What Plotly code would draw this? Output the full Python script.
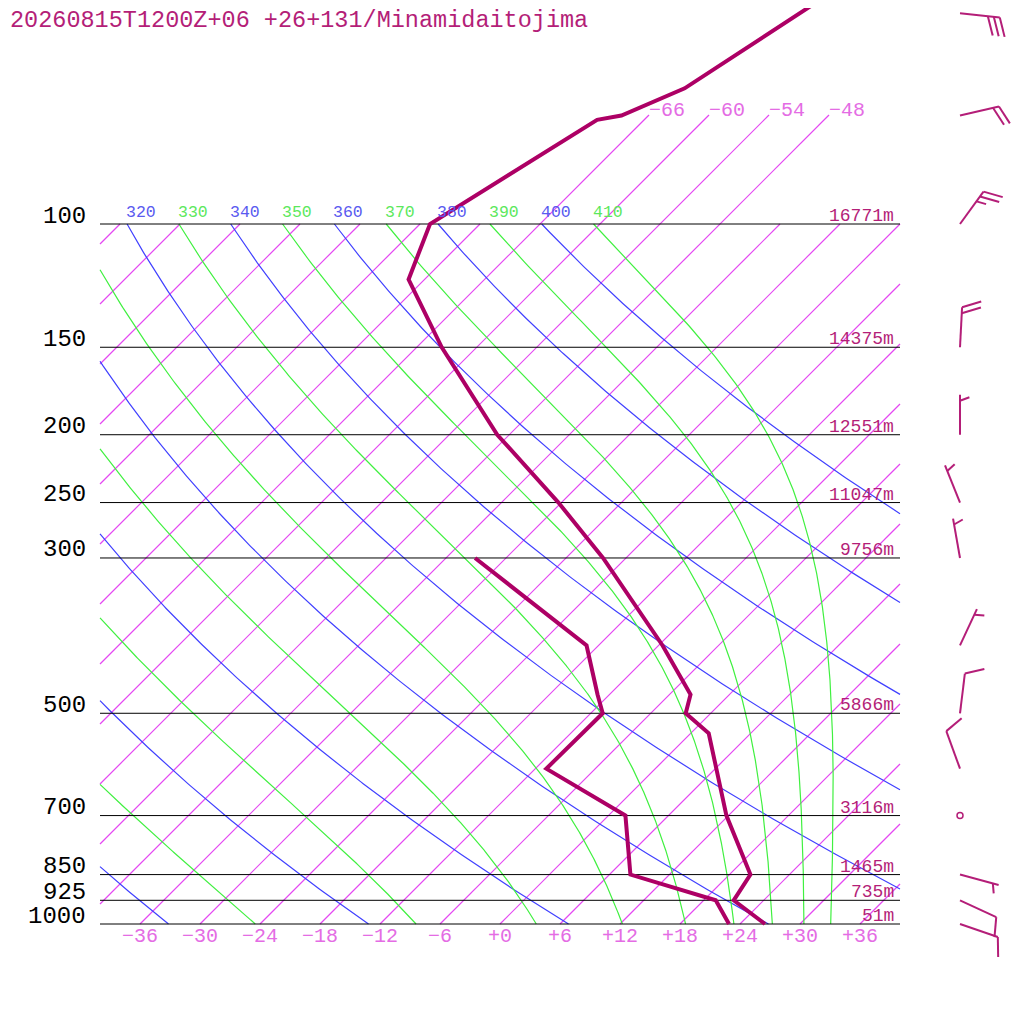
import numpy as np
import plotly.graph_objects as go

TITLE = "20260815T1200Z+06 +26+131/Minamidaitojima"

# sounding: temperature and dew point (degC) at pressure (hPa)
temp_p = [1000, 925, 850, 700, 534, 500, 470, 400, 300, 250, 200, 150, 120, 100, 71, 70, 64, 50, 45]
temp_t = [26.5, 21.0, 20.1, 11.8, 1.8, -2.5, -3.9, -11.6, -26.3, -36.3, -49.2, -63.5, -73.6, -77.0, -70.7, -68.7, -65.1, -61.1, -59.4]
dewp_p = [1000, 925, 850, 700, 600, 500, 470, 400, 300]
dewp_t = [22.9, 19.2, 8.1, 1.7, -10.9, -10.8, -13.2, -19.2, -39.1]

# standard levels and geopotential heights
level_p = [100, 150, 200, 250, 300, 500, 700, 850, 925, 1000]
level_z = [16771, 14375, 12551, 11047, 9756, 5866, 3116, 1465, 735, 51]

# winds: direction (deg), speed (kt)
wind_p = [1000, 925, 850, 700, 600, 500, 400, 300, 250, 200, 150, 100, 70, 50]
wind_dir = [109, 115, 105, 0, 340, 7, 25, 350, 338, 0, 3, 36, 77, 96]
wind_kt = [10, 10, 5, 0, 10, 10, 5, 5, 5, 5, 20, 25, 20, 30]

# background lines
isotherms = list(range(-120, 37, 6))
iso_top = [-66, -60, -54, -48]
iso_bottom = list(range(-36, 37, 6))
dry_theta = list(range(240, 401, 20))
moist_theta = list(range(230, 411, 20))

SKEW = 70.0          # x shift (deg) per decade of pressure
XMIN, XMAX = -40, 40
PTOP, PBOT = 100, 1000
TOP_EXT = 1000 / 10 ** 1.1557   # top end of the labelled isotherms
BARB_X = 46.0
PX_X, PX_DEC = 10.0, 700.0      # pixels per degree / per decade
PAGE_OFF = 8                    # page body margin in px

RD, CP, LV, EPS = 287.04, 1005.7, 2.501e6, 0.622
KAPPA = RD / CP

C_ISO = "#e448f2"
C_ISO_TXT = "rgb(228,108,228)"
C_DRY = "rgb(64,64,255)"
C_DRY_TXT = "rgb(90,90,240)"
C_MOIST = "rgb(64,240,64)"
C_MOIST_TXT = "rgb(92,232,92)"
C_SND = "rgb(173,0,101)"
C_TXT = "rgb(180,30,120)"
FONT = "Liberation Mono"
MINUS = "\u2212"


def skew_x(t, p):
    return np.asarray(t, float) + SKEW * np.log10(1000.0 / np.asarray(p, float))


def clip_box(xs, ps):
    ox, op = [], []
    inside = (xs >= XMIN) & (xs <= XMAX)
    for i in range(len(xs)):
        if i > 0 and inside[i] != inside[i - 1]:
            edge = XMIN if min(xs[i], xs[i - 1]) < XMIN else XMAX
            f = (edge - xs[i - 1]) / (xs[i] - xs[i - 1])
            lp = np.log10(ps[i - 1]) + f * (np.log10(ps[i]) - np.log10(ps[i - 1]))
            ox.append(float(edge))
            op.append(float(10 ** lp))
            if not inside[i]:
                ox.append(None)
                op.append(None)
        if inside[i]:
            ox.append(float(xs[i]))
            op.append(float(ps[i]))
    return ox, op


def dtdp(t, p):
    es = 6.112 * np.exp(17.67 * (t - 273.15) / (t - 29.65))
    rs = EPS * es / (p - es)
    return (RD * t + LV * rs) / (CP + LV * LV * rs * EPS / (RD * t * t)) / p


def moist_adiabat(theta, ps):
    t = theta * (ps[0] / 1000.0) ** KAPPA
    out = [t]
    for p0, p1 in zip(ps[:-1], ps[1:]):
        h = p1 - p0
        k1 = dtdp(t, p0)
        k2 = dtdp(t + h * k1 / 2, p0 + h / 2)
        k3 = dtdp(t + h * k2 / 2, p0 + h / 2)
        k4 = dtdp(t + h * k3, p1)
        t = t + h * (k1 + 2 * k2 + 2 * k3 + k4) / 6
        out.append(t)
    return np.array(out) - 273.15


fig = go.Figure()

# isotherms
ix, ip = [], []
for t in isotherms:
    ptop = TOP_EXT if t in iso_top else PTOP
    ps = np.geomspace(PBOT, ptop, 50)
    cx, cp = clip_box(skew_x(t, ps), ps)
    if cx:
        ix += cx + [None]
        ip += cp + [None]
fig.add_trace(go.Scatter(x=ix, y=ip, mode="lines",
                         line=dict(color=C_ISO, width=1.2), hoverinfo="skip"))

# dry adiabats
dx_, dp_ = [], []
ps_d = np.geomspace(PBOT, PTOP, 400)
for th in dry_theta:
    t = th * (ps_d / 1000.0) ** KAPPA - 273.15
    cx, cp = clip_box(skew_x(t, ps_d), ps_d)
    if cx:
        dx_ += cx + [None]
        dp_ += cp + [None]
fig.add_trace(go.Scatter(x=dx_, y=dp_, mode="lines", line=dict(color=C_DRY, width=1.2), hoverinfo="skip"))

# moist (pseudo) adiabats
mx, mp = [], []
ps_m = np.linspace(PTOP, PBOT, 600)
for th in moist_theta:
    t = moist_adiabat(th, ps_m)
    cx, cp = clip_box(skew_x(t, ps_m), ps_m)
    if cx:
        mx += cx + [None]
        mp += cp + [None]
fig.add_trace(go.Scatter(x=mx, y=mp, mode="lines", line=dict(color=C_MOIST, width=1.2), hoverinfo="skip"))

# isobars
bx, bp = [], []
for p in level_p:
    bx += [XMIN, XMAX, None]
    bp += [p, p, None]
fig.add_trace(go.Scatter(x=bx, y=bp, mode="lines", line=dict(color="black", width=1), hoverinfo="skip"))

# sounding
fig.add_trace(go.Scatter(x=skew_x(temp_t, temp_p), y=temp_p, mode="lines",
                         line=dict(color=C_SND, width=4)))
fig.add_trace(go.Scatter(x=skew_x(dewp_t, dewp_p), y=dewp_p, mode="lines",
                         line=dict(color=C_SND, width=4)))

# wind barbs
wx, wp, calm_x, calm_p = [], [], [], []
ang = np.radians(70)
for p, d, s in zip(wind_p, wind_dir, wind_kt):
    lb = np.log10(p)
    if s == 0:
        calm_x.append(BARB_X)
        calm_p.append(p)
        continue
    sx, sy = np.sin(np.radians(d)), -np.cos(np.radians(d))   # screen, y down
    bxv = sx * np.cos(ang) - sy * np.sin(ang)
    byv = sx * np.sin(ang) + sy * np.cos(ang)

    def pt(dx, dy):
        return BARB_X + dx / PX_X, 10 ** (lb + dy / PX_DEC)

    a, b = pt(0, 0), pt(40 * sx, 40 * sy)
    wx += [a[0], b[0], None]
    wp += [a[1], b[1], None]
    n_full, n_half = s // 10, int(s % 10 >= 5)
    ticks = [20] * n_full + [10] * n_half
    start = 1 if n_full == 0 else 0
    for i, ln in enumerate(ticks):
        r = 40 - (i + start) * 6
        a = pt(r * sx, r * sy)
        b = pt(r * sx + ln * bxv, r * sy + ln * byv)
        wx += [a[0], b[0], None]
        wp += [a[1], b[1], None]
fig.add_trace(go.Scatter(x=wx, y=wp, mode="lines", line=dict(color=C_TXT, width=2), hoverinfo="skip"))
fig.add_trace(go.Scatter(x=calm_x, y=calm_p, mode="markers",
                         marker=dict(symbol="circle-open", size=6, color=C_TXT, line=dict(width=1.5))))


def tlabel(t):
    return f"{t:+d}".replace("-", MINUS)


ann = []
# pressure labels and heights
for p, z in zip(level_p, level_z):
    ann.append(dict(x=-41.2, y=np.log10(p), text=str(p), xanchor="right", yanchor="middle", yshift=8,
                    font=dict(family=FONT, size=24, color="black")))
    ann.append(dict(x=39.6, y=np.log10(p), text=f"{z}m", xanchor="right", yanchor="middle", yshift=8,
                    font=dict(family=FONT, size=18, color=C_TXT)))
# theta labels at the top of the adiabats
for th in sorted(dry_theta + moist_theta):
    xt = float(skew_x(th * (PTOP / 1000.0) ** KAPPA - 273.15, PTOP))
    if xt < XMIN or xt > XMAX:
        continue
    col = C_DRY_TXT if th in dry_theta else C_MOIST_TXT
    ann.append(dict(x=xt - 0.3, y=np.log10(PTOP), text=str(th), xanchor="left", yanchor="middle", yshift=12,
                    font=dict(family=FONT, size=16.5, color=col)))
# isotherm labels
for t in iso_top:
    ann.append(dict(x=float(skew_x(t, TOP_EXT)) - 0.2, y=np.log10(TOP_EXT), text=tlabel(t).lstrip("+"),
                    xanchor="left", yanchor="middle", yshift=5,
                    font=dict(family=FONT, size=20, color=C_ISO_TXT)))
for t in iso_bottom:
    ann.append(dict(x=t, y=np.log10(PBOT), text=tlabel(t), xanchor="center", yanchor="middle", yshift=-12,
                    font=dict(family=FONT, size=20, color=C_ISO_TXT)))
ann.append(dict(xref="paper", yref="paper", x=0, y=1 - 12.5 / 1016, text=TITLE,
                xanchor="left", yanchor="middle", font=dict(family=FONT, size=23.5, color=C_TXT)))
for a in ann:
    a.setdefault("showarrow", False)

W = 1024 - PAGE_OFF
fig.update_layout(
    width=W, height=W,
    margin=dict(l=0, r=0, t=0, b=0),
    paper_bgcolor="white", plot_bgcolor="white",
    showlegend=False,
    annotations=ann,
    xaxis=dict(range=[(PAGE_OFF - 500) / PX_X, (1024 - 500) / PX_X], visible=False, fixedrange=True),
    yaxis=dict(type="log", range=[3 + 100 / PX_DEC, 3 - (924 - PAGE_OFF) / PX_DEC],
               visible=False, fixedrange=True),
)

fig.write_html("out.html")
